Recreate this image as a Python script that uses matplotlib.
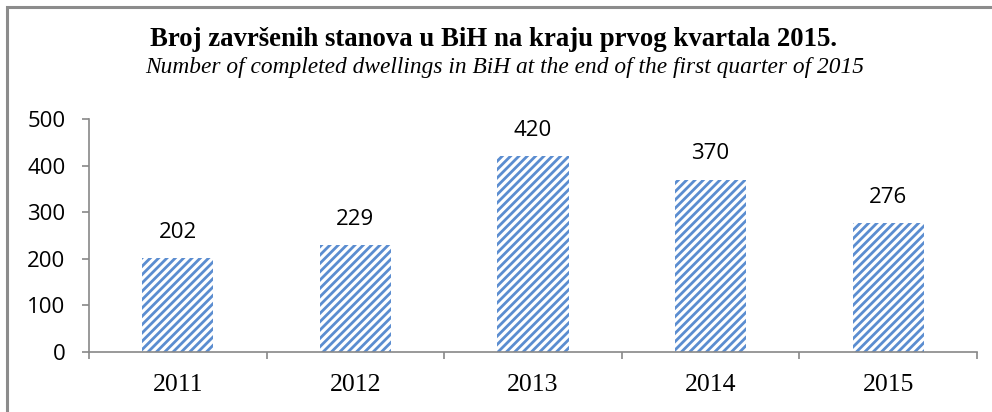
import matplotlib
matplotlib.use("Agg")
import matplotlib.pyplot as plt
from matplotlib.patches import Rectangle

years = ["2011", "2012", "2013", "2014", "2015"]
values = [202, 229, 420, 370, 276]
yticks = [0, 100, 200, 300, 400, 500]
title = "Broj završenih stanova u BiH na kraju prvog kvartala 2015."
subtitle = "Number of completed dwellings in BiH at the end of the first quarter of 2015"

plt.rcParams['hatch.linewidth'] = 2.0
plt.rcParams['hatch.color'] = '#5b8dd0'

fig = plt.figure(figsize=(9.92, 4.12), dpi=100)
fig.patches.append(Rectangle((7/992, -0.1), 1.2, 1 - 7/412 + 0.1, transform=fig.transFigure,
                             fill=False, edgecolor='#8c8c8c', linewidth=2.2))

ax = fig.add_axes([89/992, 1 - 352/412, (977 - 89)/992, (352 - 119)/412])
x = list(range(len(years)))
bars = ax.bar(x, values, width=0.4, color='white', edgecolor='#5b8dd0', hatch='////', linewidth=0)
ax.set_xlim(-0.5, len(years) - 0.5)
ax.set_ylim(0, 500)
ax.set_yticks(yticks)
ax.set_yticklabels([str(v) for v in yticks], fontfamily='Open Sans', fontsize=16)
ax.set_xticks(x)
ax.set_xticklabels(years, fontfamily='Liberation Serif', fontsize=18.5)
ax.set_xticks([i - 0.5 for i in range(len(years) + 1)], minor=True)
ax.tick_params(axis='x', which='major', length=0, pad=16)
ax.tick_params(axis='x', which='minor', length=5, color='#888888', width=1.2, direction='out')
ax.tick_params(axis='y', length=5, color='#888888', width=1.2, pad=12)
for s in ['top', 'right']:
    ax.spines[s].set_visible(False)
for s in ['left', 'bottom']:
    ax.spines[s].set_color('#888888')
    ax.spines[s].set_linewidth(1.2)

for xi, v in zip(x, values):
    ax.annotate(str(v), (xi, v), xytext=(0, 11), textcoords='offset points',
                ha='center', va='bottom', fontfamily='Open Sans', fontsize=16)

fig.text(493/992, 1 - 40/412, title, ha='center', va='center', fontfamily='Liberation Serif',
         fontweight='bold', fontsize=19.3)
fig.text(505/992, 1 - 68/412, subtitle, ha='center', va='center', fontfamily='Liberation Serif',
         fontstyle='italic', fontsize=16.8)

fig.savefig('out.png', dpi=100)
